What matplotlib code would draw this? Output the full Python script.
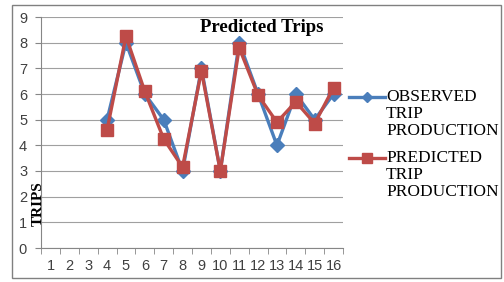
import matplotlib.pyplot as plt
from matplotlib.patches import Rectangle
from matplotlib.lines import Line2D
from matplotlib import rcParams

rcParams["font.family"] = "sans-serif"
rcParams["font.sans-serif"] = ["Liberation Sans"]

zones = [str(i) for i in range(1, 17)]
obs_zones = list(range(4, 17))
observed = [5, 8, 6, 5, 3, 7, 3, 8, 6, 4, 6, 5, 6]
predicted = [4.6, 8.25, 6.1, 4.25, 3.15, 6.9, 3.0, 7.8, 5.95, 4.9, 5.7, 4.85, 6.25]
series_names = ["OBSERVED\nTRIP\nPRODUCTION", "PREDICTED\nTRIP\nPRODUCTION"]
series_colors = ["#4a7ebb", "#be4b48"]
series_markers = [("D", 7), ("s", 9)]


def main():
    fig = plt.figure(figsize=(5.04, 2.82), dpi=100)
    ax = fig.add_axes([41 / 504, 1 - 248 / 282, 302 / 504, 231 / 282])

    for vals, name, c, (m, ms) in zip([observed, predicted], series_names,
                                      series_colors, series_markers):
        ax.plot(obs_zones, vals, color=c, lw=2.4, marker=m, ms=ms, label=name)

    ax.set_xlim(0.5, 16.5)
    ax.set_ylim(0, 9)
    ax.set_yticks(range(0, 10))
    ax.set_xticks(range(1, 17))
    ax.set_xticklabels(zones)
    ax.set_xticks([i + 0.5 for i in range(0, 17)], minor=True)
    ax.tick_params(axis="x", which="major", length=0, pad=8)
    ax.tick_params(axis="x", which="minor", length=4, color="#868686")
    ax.tick_params(axis="y", length=4, color="#868686", pad=6)
    ax.tick_params(labelsize=10.5, labelcolor="#404040")
    ax.grid(axis="y", color="#a0a0a0", lw=0.8)
    ax.set_axisbelow(True)
    for s in ["top", "right"]:
        ax.spines[s].set_visible(False)
    for s in ["left", "bottom"]:
        ax.spines[s].set_color("#868686")

    fig.text(262 / 504, 1 - 28 / 282, "Predicted Trips", ha="center",
             va="center", family="Liberation Serif", weight="bold", fontsize=13.5)
    fig.text(38 / 504, 1 - 204 / 282, "TRIPS", rotation=90, ha="center",
             va="center", family="Liberation Serif", weight="bold", fontsize=11)

    # legend drawn by hand so the key sits on the first text line
    for i, (name, c, (m, ms)) in enumerate(zip(series_names, series_colors,
                                              series_markers)):
        y = 1 - (97 + i * 61) / 282
        fig.add_artist(Line2D([349 / 504, 385 / 504], [y, y], color=c, lw=2.4))
        fig.add_artist(Line2D([367 / 504], [y], color=c, marker=m,
                              ms=ms * 0.8, lw=0))
        fig.text(386 / 504, y + 8 / 282, name, ha="left", va="top",
                 family="Liberation Serif", fontsize=12.5, linespacing=1.1)

    fig.patches.append(Rectangle((12 / 504, 4 / 282), 489 / 504, 273 / 282,
                                 transform=fig.transFigure, fill=False,
                                 ec="#808080", lw=1))

    plt.savefig("out.png", dpi=100)


if __name__ == "__main__":
    main()
